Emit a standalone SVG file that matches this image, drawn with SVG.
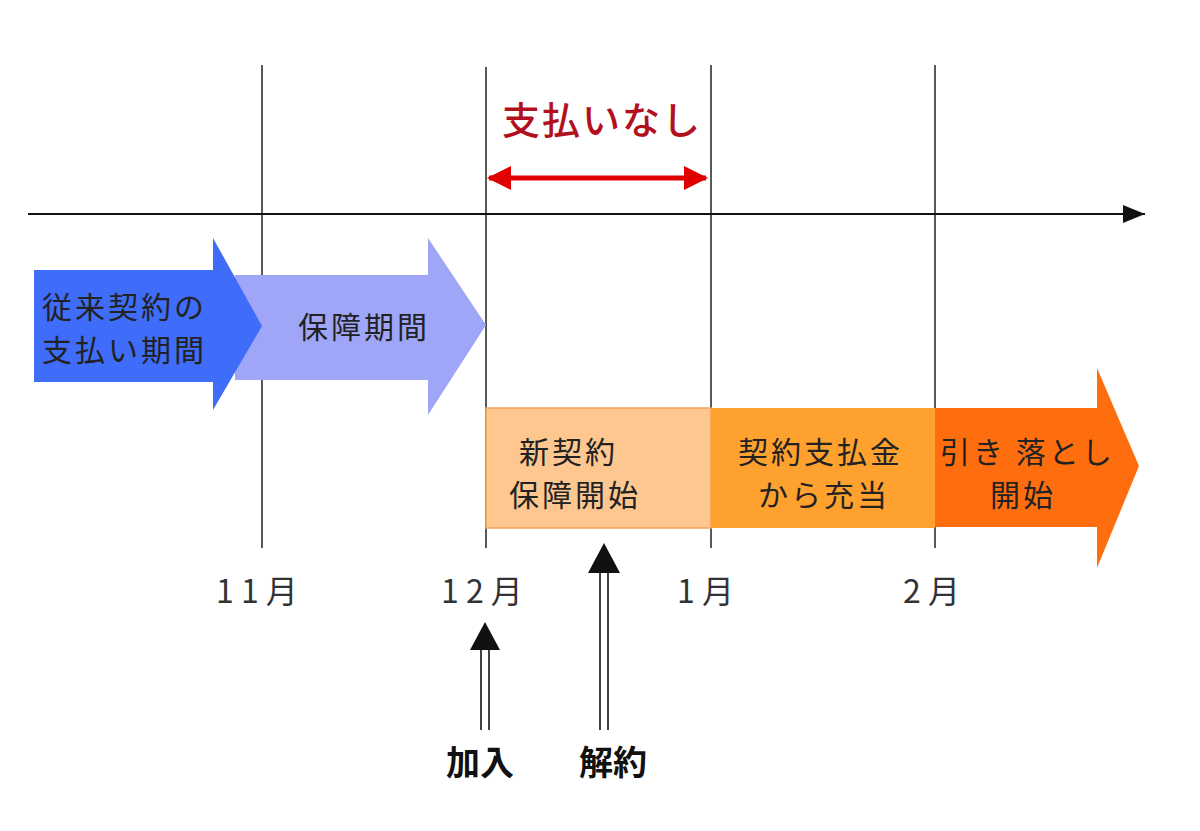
<svg xmlns="http://www.w3.org/2000/svg" width="1200" height="831" viewBox="0 0 1200 831">
<style>
.grid{stroke:#222;stroke-width:1.5;fill:none}
.lbl{font-family:"Noto Sans CJK JP","Liberation Sans",sans-serif;font-size:30px;fill:#222;letter-spacing:3px}
.mon{font-family:"Noto Sans CJK JP","Liberation Sans",sans-serif;font-size:32px;fill:#333}
.bold{font-family:"Noto Sans CJK JP","Liberation Sans",sans-serif;font-size:34px;font-weight:bold;fill:#111}
.dbl{stroke:#111;stroke-width:1.6;fill:none}
</style>
<defs>
<marker id="ax" markerWidth="22" markerHeight="18" refX="22" refY="9" orient="auto" markerUnits="userSpaceOnUse">
<path d="M0,0 L22,9 L0,18 Z" fill="#111"/>
</marker>
<marker id="red" markerWidth="24" markerHeight="24" refX="22" refY="12" orient="auto-start-reverse" markerUnits="userSpaceOnUse">
<path d="M0,0 L24,12 L0,24 Z" fill="#e00000"/>
</marker>
</defs>
<rect width="1200" height="831" fill="#fff"/>
<g id="grid">
<line class="grid" x1="262" y1="65" x2="262" y2="548"/>
<line class="grid" x1="486" y1="67" x2="486" y2="548"/>
<line class="grid" x1="711" y1="65" x2="711" y2="548"/>
<line class="grid" x1="935" y1="65" x2="935" y2="548"/>
</g>
<g id="period-guarantee">
<path d="M235,275 L428,275 L428,238 L486,325 L428,415 L428,380 L235,380 Z" fill="#a0a6f7"/>
<text class="lbl" x="298" y="338">保障期間</text>
</g>
<g id="period-old">
<path d="M34,270 L213,270 L213,238 L262,326 L213,410 L213,382 L34,382 Z" fill="#3f6cf8"/>
<text class="lbl" x="42" y="318">従来契約の</text>
<text class="lbl" x="42" y="361">支払い期間</text>
</g>
<g id="new-contract">
<rect x="486" y="408" width="225" height="120" fill="#fdc78f" stroke="#f6a457" stroke-width="1.5"/>
<text class="lbl" x="519" y="463">新契約</text>
<text class="lbl" x="509" y="506">保障開始</text>
</g>
<g id="payment">
<rect x="711" y="408" width="224" height="120" fill="#ffa12e"/>
<text class="lbl" x="738" y="463">契約支払金</text>
<text class="lbl" x="758" y="506">から充当</text>
</g>
<g id="debit">
<path d="M935,408 L1097,408 L1097,368 L1139,466 L1097,568 L1097,527 L935,527 Z" fill="#ff6e0e"/>
<text class="lbl" x="940" y="463">引き 落とし</text>
<text class="lbl" x="990" y="506">開始</text>
</g>
<g id="months">
<text class="mon" x="216" y="603">1 1 月</text>
<text class="mon" x="441" y="603">1 2 月</text>
<text class="mon" x="677" y="603">1 月</text>
<text class="mon" x="903" y="603">2 月</text>
</g>
<g id="no-payment">
<text x="502" y="134" font-family="'Noto Sans CJK JP','Liberation Sans',sans-serif" font-size="38" font-weight="500" letter-spacing="2" fill="#b3101e">支払いなし</text>
</g>
<g id="connectors">
<line x1="28" y1="214" x2="1145" y2="214" stroke="#111" stroke-width="1.8" marker-end="url(#ax)"/>
<line x1="489" y1="178" x2="706" y2="178" stroke="#e00000" stroke-width="5" marker-start="url(#red)" marker-end="url(#red)"/>
<line class="dbl" x1="481" y1="650" x2="481" y2="730"/>
<line class="dbl" x1="489" y1="650" x2="489" y2="730"/>
<path d="M485,622 L500,650 L470,650 Z" fill="#111"/>
<line class="dbl" x1="600" y1="572" x2="600" y2="730"/>
<line class="dbl" x1="608" y1="572" x2="608" y2="730"/>
<path d="M604,543 L620,573 L588,573 Z" fill="#111"/>
</g>
<g id="join">
<text class="bold" x="446" y="775">加入</text>
</g>
<g id="cancel">
<text class="bold" x="579" y="775">解約</text>
</g>
</svg>
